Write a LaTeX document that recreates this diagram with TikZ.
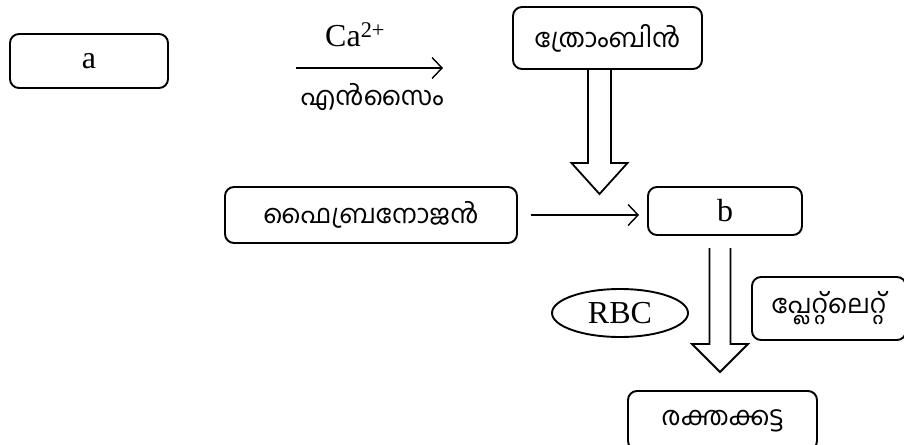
\documentclass[tikz,border=0pt]{standalone}
\usepackage{fontspec}
\setmainfont{Liberation Serif}
\newfontfamily\mlfont[Script=Malayalam]{Hind Kochi}
\usetikzlibrary{arrows.meta,calc,shapes.geometric}

% open-topped block arrow pointing down:
% #1 centre x, #2 top y, #3 y where the head starts, #4 tip y, #5 half shaft, #6 half head
\newcommand\downblock[6]{%
  \draw[hollow] (#1-#5,#2) -- (#1-#5,#3) -- (#1-#6,#3) -- (#1,#4)
    -- (#1+#6,#3) -- (#1+#5,#3) -- (#1+#5,#2);}

\begin{document}
\begin{tikzpicture}[x=1pt,y=-1pt,
  latin/.style={font=\fontsize{32}{36}\selectfont},
  mal/.style={font=\mlfont\fontsize{26}{30}\selectfont},
  box/.style={draw, line width=1.9pt, rounded corners=9pt, inner sep=0pt, latin},
  mlbox/.style={box, mal},
  oval/.style={draw, ellipse, line width=1.9pt, inner sep=0pt, latin},
  thinarrow/.style={line width=1.4pt,
    -{Straight Barb[length=10pt,width=21pt,line width=1.4pt]}},
  hollow/.style={line width=1.8pt, line join=miter},
]
\useasboundingbox (0,0) rectangle (904,444);

% boxes
\node[box, minimum width=158pt, minimum height=54pt] (a) at (89,61) {a};
\node[mlbox, minimum width=189pt, minimum height=62pt] (thr) at (607.5,38) {ത്രോംബിൻ};
\node[mlbox, minimum width=292pt, minimum height=56pt] (fib) at (371,215) {ഫൈബ്രനോജൻ};
\node[box, minimum width=154pt, minimum height=48pt] (b) at (725,211) {b};
\node[oval, minimum width=136pt, minimum height=48pt] (rbc) at (620,313) {RBC};
\node[mlbox, minimum width=154pt, minimum height=63pt] (plt) at (829,308.5) {പ്ലേറ്റ്‌ലെറ്റ്};
\node[mlbox, minimum width=189pt, minimum height=59pt] (clot) at (722.5,420.5) {രക്തക്കട്ട};

% reaction arrow with its conditions
\coordinate (r1) at (296,68);
\coordinate (r2) at (443,68);
\draw[thinarrow] (r1) -- (r2);
\node[latin, anchor=base west, inner sep=0pt] (ca) at (325,47) {Ca\textsuperscript{2+}};
\node[mal, inner sep=0pt] (enz) at (372,97) {എൻസൈം};

% fibrinogen to b
\draw[thinarrow, shorten <=13pt, shorten >=8pt] (fib.east) -- (fib.east -| b.west);

% block arrows
\downblock{599.5}{69}{163}{194}{11.5}{28}
\downblock{720}{248}{344}{372}{10.5}{28}
\end{tikzpicture}
\end{document}
